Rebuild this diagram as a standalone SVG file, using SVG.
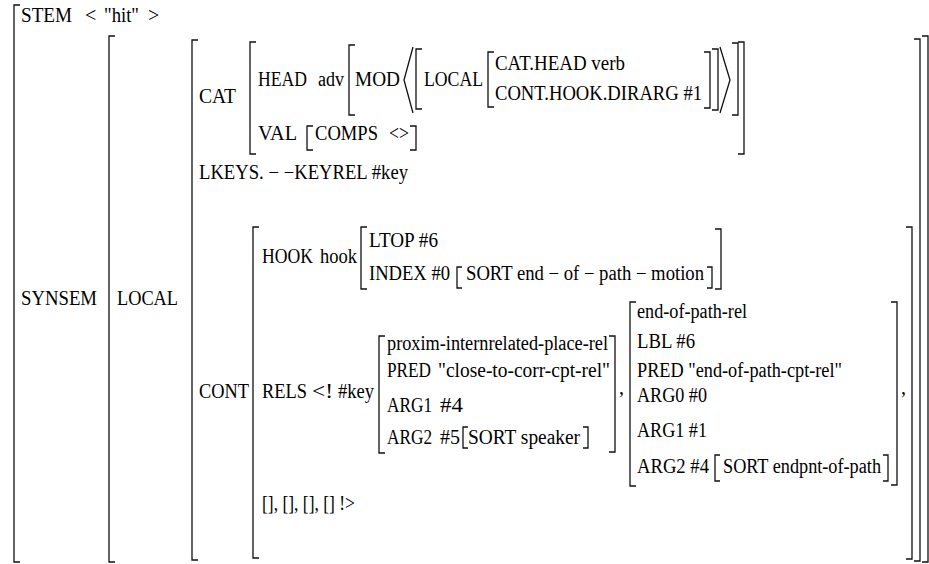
<svg xmlns="http://www.w3.org/2000/svg" width="929" height="564" viewBox="0 0 929 564">
<style>
.t{font-family:"Liberation Serif","Times New Roman",Times,serif;font-size:20px;fill:#000}
.b{fill:none;stroke:#111;stroke-width:1.3}
</style>
<rect width="929" height="564" fill="#fff"/>
<g id="brackets">
<path class="b" d="M20,5H14V562H20"/>
<path class="b" d="M115,36H109V562H115"/>
<path class="b" d="M922,36H928V562H922"/>
<path class="b" d="M198,40H192V560H198"/>
<path class="b" d="M914,39H920V561H914"/>
<path class="b" d="M256,42H250V154H256"/>
<path class="b" d="M738,42H744V154H738"/>
<path class="b" d="M355,45H349V115H355"/>
<path class="b" d="M732,43H738V115H732"/>
<path class="b" d="M413,47L404,80L413,113"/>
<path class="b" d="M720,47L730,80L720,113"/>
<path class="b" d="M422,49H416V109H422"/>
<path class="b" d="M712,49H718V110H712"/>
<path class="b" d="M494,52H488V107H494"/>
<path class="b" d="M704,52H710V108H704"/>
<path class="b" d="M313,126H307V150H313"/>
<path class="b" d="M410,126H416V150H410"/>
<path class="b" d="M259,227H253V558H259"/>
<path class="b" d="M906,227H912V559H906"/>
<path class="b" d="M367,227H361V289H367"/>
<path class="b" d="M715,229H721V289H715"/>
<path class="b" d="M462,267H457V288H462"/>
<path class="b" d="M707,267H712V288H707"/>
<path class="b" d="M385,336H379V453H385"/>
<path class="b" d="M609,336H615V452H609"/>
<path class="b" d="M468,427H463V448H468"/>
<path class="b" d="M583,427H588V448H583"/>
<path class="b" d="M636,302H630V486H636"/>
<path class="b" d="M891,302H897V485H891"/>
<path class="b" d="M720,455H715V481H720"/>
<path class="b" d="M883,455H888V481H883"/>
</g>
<g id="labels" font-family="Liberation Serif" font-size="20">
<text class="t" x="21" y="22" textLength="51" lengthAdjust="spacingAndGlyphs">STEM</text>
<text class="t" x="85" y="22">&lt;</text>
<text class="t" x="104" y="22" textLength="35" lengthAdjust="spacingAndGlyphs">"hit"</text>
<text class="t" x="148" y="22">&gt;</text>
<text class="t" x="21" y="305" textLength="76" lengthAdjust="spacingAndGlyphs">SYNSEM</text>
<text class="t" x="117" y="305" textLength="61" lengthAdjust="spacingAndGlyphs">LOCAL</text>
<text class="t" x="199" y="103" textLength="37" lengthAdjust="spacingAndGlyphs">CAT</text>
<text class="t" x="258" y="86" textLength="49" lengthAdjust="spacingAndGlyphs">HEAD</text>
<text class="t" x="318" y="86" textLength="26" lengthAdjust="spacingAndGlyphs">adv</text>
<text class="t" x="355" y="86" textLength="45" lengthAdjust="spacingAndGlyphs">MOD</text>
<text class="t" x="424" y="86" textLength="59" lengthAdjust="spacingAndGlyphs">LOCAL</text>
<text class="t" x="495" y="70" textLength="130" lengthAdjust="spacingAndGlyphs">CAT.HEAD verb</text>
<text class="t" x="495" y="100" textLength="207" lengthAdjust="spacingAndGlyphs">CONT.HOOK.DIRARG #1</text>
<text class="t" x="258" y="140" textLength="39" lengthAdjust="spacingAndGlyphs">VAL</text>
<text class="t" x="315" y="140" textLength="63" lengthAdjust="spacingAndGlyphs">COMPS</text>
<text class="t" x="389" y="140" textLength="20" lengthAdjust="spacingAndGlyphs">&lt;&gt;</text>
<text class="t" x="199" y="179" textLength="209" lengthAdjust="spacingAndGlyphs">LKEYS. − −KEYREL #key</text>
<text class="t" x="199" y="398" textLength="50" lengthAdjust="spacingAndGlyphs">CONT</text>
<text class="t" x="262" y="263" textLength="51" lengthAdjust="spacingAndGlyphs">HOOK</text>
<text class="t" x="320" y="263" textLength="37" lengthAdjust="spacingAndGlyphs">hook</text>
<text class="t" x="369" y="247" textLength="69" lengthAdjust="spacingAndGlyphs">LTOP #6</text>
<text class="t" x="369" y="280" textLength="81" lengthAdjust="spacingAndGlyphs">INDEX #0</text>
<text class="t" x="466" y="280" textLength="238" lengthAdjust="spacingAndGlyphs">SORT end − of − path − motion</text>
<text class="t" x="262" y="398" textLength="45" lengthAdjust="spacingAndGlyphs">RELS</text>
<text class="t" x="312" y="398" textLength="21" lengthAdjust="spacingAndGlyphs">&lt;!</text>
<text class="t" x="338" y="398" textLength="36" lengthAdjust="spacingAndGlyphs">#key</text>
<text class="t" x="387" y="350" textLength="221" lengthAdjust="spacingAndGlyphs">proxim-internrelated-place-rel</text>
<text class="t" x="387" y="377" textLength="44" lengthAdjust="spacingAndGlyphs">PRED</text>
<text class="t" x="438" y="377" textLength="172" lengthAdjust="spacingAndGlyphs">"close-to-corr-cpt-rel"</text>
<text class="t" x="387" y="412" textLength="45" lengthAdjust="spacingAndGlyphs">ARG1</text>
<text class="t" x="440" y="412" textLength="23" lengthAdjust="spacingAndGlyphs">#4</text>
<text class="t" x="387" y="444" textLength="45" lengthAdjust="spacingAndGlyphs">ARG2</text>
<text class="t" x="440" y="444" textLength="20" lengthAdjust="spacingAndGlyphs">#5</text>
<text class="t" x="468" y="444" textLength="112" lengthAdjust="spacingAndGlyphs">SORT speaker</text>
<text class="t" x="619" y="394">,</text>
<text class="t" x="637" y="318" textLength="110" lengthAdjust="spacingAndGlyphs">end-of-path-rel</text>
<text class="t" x="637" y="348" textLength="58" lengthAdjust="spacingAndGlyphs">LBL #6</text>
<text class="t" x="637" y="377" textLength="205" lengthAdjust="spacingAndGlyphs">PRED "end-of-path-cpt-rel"</text>
<text class="t" x="637" y="402" textLength="70" lengthAdjust="spacingAndGlyphs">ARG0 #0</text>
<text class="t" x="637" y="437" textLength="70" lengthAdjust="spacingAndGlyphs">ARG1 #1</text>
<text class="t" x="637" y="473" textLength="72" lengthAdjust="spacingAndGlyphs">ARG2 #4</text>
<text class="t" x="723" y="473" textLength="158" lengthAdjust="spacingAndGlyphs">SORT endpnt-of-path</text>
<text class="t" x="901" y="394">,</text>
<text class="t" x="262" y="510" textLength="93" lengthAdjust="spacingAndGlyphs">[], [], [], [] !&gt;</text>
</g>
</svg>
